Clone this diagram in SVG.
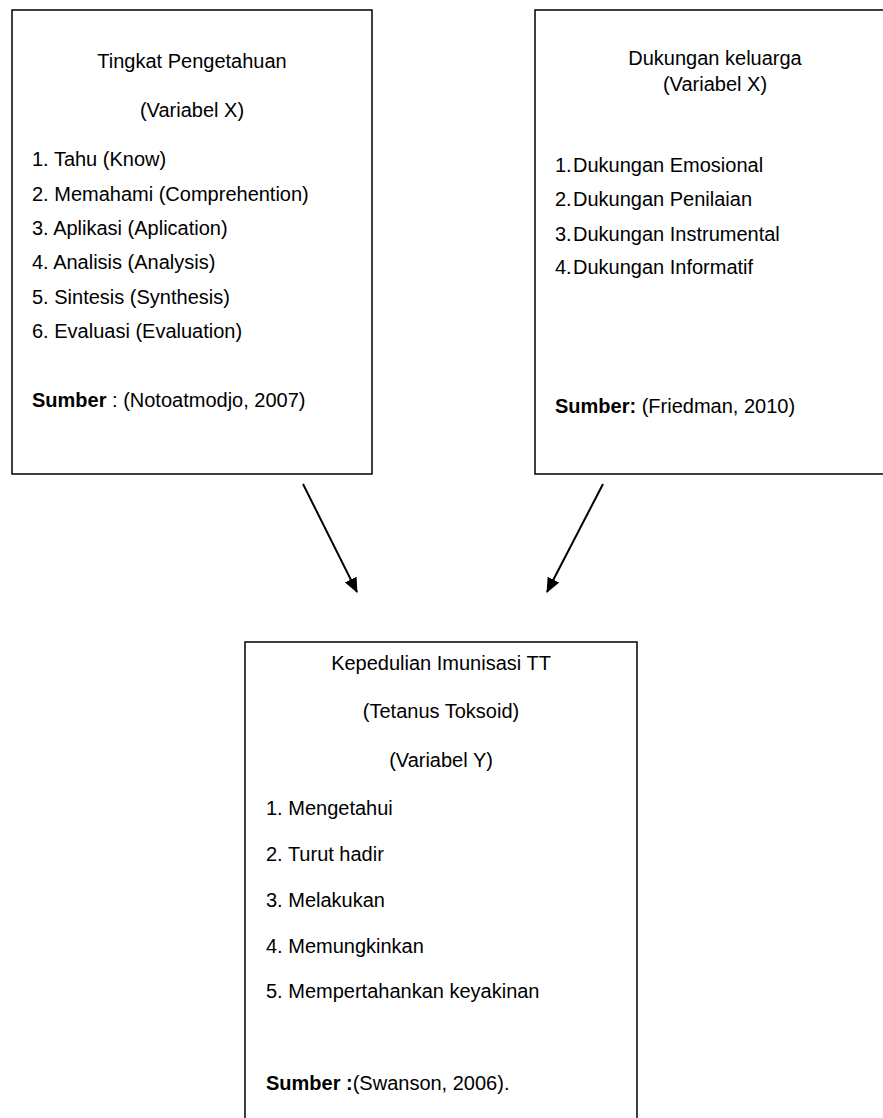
<svg xmlns="http://www.w3.org/2000/svg" width="883" height="1118" viewBox="0 0 883 1118">
<style>
.box{fill:#fff;stroke:#000;stroke-width:1.5}
text{font-family:"Liberation Sans",Arial,sans-serif;font-size:20px;fill:#000}
.c{text-anchor:middle}
.b{font-weight:bold}
.conn{stroke:#000;stroke-width:2;fill:none}
</style>
<defs>
<marker id="ah" viewBox="0 0 15 13" refX="14" refY="6.5" markerWidth="15" markerHeight="13" markerUnits="userSpaceOnUse" orient="auto">
<path d="M0,0 L15,6.5 L0,13 z" fill="#000"/>
</marker>
</defs>
<rect width="883" height="1118" fill="#fff"/>
<g id="node-pengetahuan">
<rect class="box" x="12" y="10" width="360" height="464"/>
<text class="c" x="192" y="68">Tingkat Pengetahuan</text>
<text class="c" x="192" y="117">(Variabel X)</text>
<text x="32" y="166">1. Tahu (Know)</text>
<text x="32" y="201">2. Memahami (Comprehention)</text>
<text x="32" y="235">3. Aplikasi (Aplication)</text>
<text x="32" y="269">4. Analisis (Analysis)</text>
<text x="32" y="304">5. Sintesis (Synthesis)</text>
<text x="32" y="338">6. Evaluasi (Evaluation)</text>
<text x="32" y="407"><tspan class="b">Sumber</tspan> : (Notoatmodjo, 2007)</text>
</g>
<g id="node-dukungan">
<rect class="box" x="535" y="10" width="360" height="464"/>
<text class="c" x="715" y="65">Dukungan keluarga</text>
<text class="c" x="715" y="91">(Variabel X)</text>
<text x="555" y="172">1.<tspan x="573">Dukungan Emosional</tspan></text>
<text x="555" y="206">2.<tspan x="573">Dukungan Penilaian</tspan></text>
<text x="555" y="241">3.<tspan x="573">Dukungan Instrumental</tspan></text>
<text x="555" y="274">4.<tspan x="573">Dukungan Informatif</tspan></text>
<text x="555" y="413"><tspan class="b">Sumber:</tspan> (Friedman, 2010)</text>
</g>
<g id="node-kepedulian">
<rect class="box" x="245" y="642" width="392" height="500"/>
<text class="c" x="441" y="670">Kepedulian Imunisasi TT</text>
<text class="c" x="441" y="718">(Tetanus Toksoid)</text>
<text class="c" x="441" y="767">(Variabel Y)</text>
<text x="266" y="815">1. Mengetahui</text>
<text x="266" y="861">2. Turut hadir</text>
<text x="266" y="907">3. Melakukan</text>
<text x="266" y="953">4. Memungkinkan</text>
<text x="266" y="998">5. Mempertahankan keyakinan</text>
<text x="266" y="1090"><tspan class="b">Sumber :</tspan>(Swanson, 2006).</text>
</g>
<g id="connectors">
<line class="conn" x1="303" y1="484" x2="357" y2="592" marker-end="url(#ah)"/>
<line class="conn" x1="603" y1="484" x2="547" y2="592" marker-end="url(#ah)"/>
</g>
</svg>
